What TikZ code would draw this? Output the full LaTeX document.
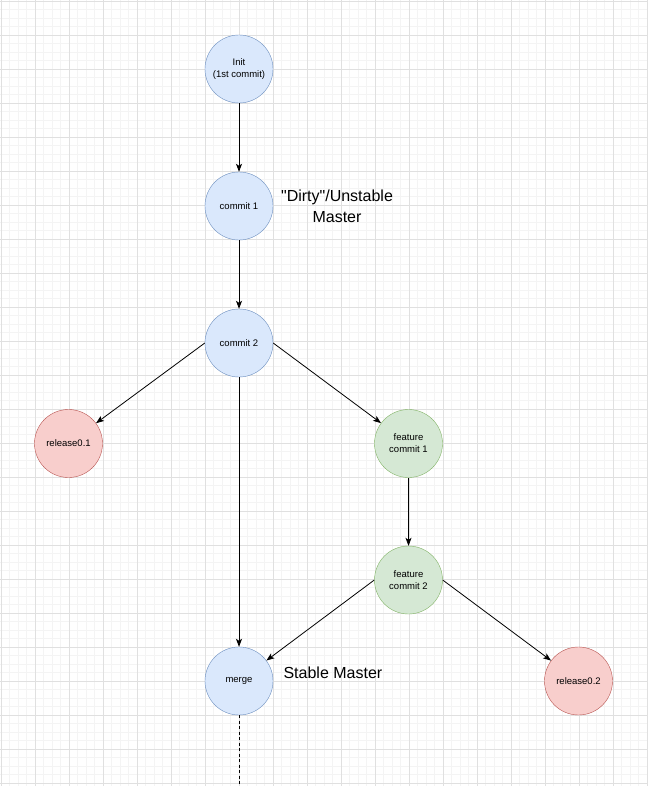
\documentclass[tikz,border=0pt]{standalone}
\usepackage{fontspec}
\setmainfont{Liberation Sans}
\newfontfamily\tagfont{Liberation Sans}
\usetikzlibrary{arrows.meta}

\begin{document}
\begin{tikzpicture}[
    x=1pt, y=-1pt,
    commit/.style={circle, draw, minimum size=68pt, inner sep=0pt, align=center, font=\fontsize{9.5}{12}\selectfont},
    mainline/.style={commit, fill=mainfill, draw=mainline},
    release/.style={commit, fill=relfill, draw=relline},
    feature/.style={commit, fill=featfill, draw=featline},
    tag/.style={align=center, font=\tagfont\fontsize{16}{21}\selectfont},
    edge/.style={line width=0.8pt, -{Stealth[length=8pt,width=6pt,inset=2pt]}},
    minor/.style={draw=gridminor, line width=0.5pt},
    major/.style={draw=gridmajor, line width=0.8pt}
  ]
  \definecolor{mainfill}{HTML}{DAE8FC}
  \definecolor{mainline}{HTML}{6C8EBF}
  \definecolor{relfill}{HTML}{F8CECC}
  \definecolor{relline}{HTML}{B85450}
  \definecolor{featfill}{HTML}{D5E8D4}
  \definecolor{featline}{HTML}{82B366}
  \definecolor{gridminor}{HTML}{F4F4F4}
  \definecolor{gridmajor}{HTML}{E0E0E0}

  % background grid
  \useasboundingbox (0,0) rectangle (647,786);
  \fill[white] (0,0) rectangle (647,786);
  \foreach \i in {0,...,76} \draw[minor] ({1+8.5*\i},0) -- ({1+8.5*\i},786);
  \foreach \i in {0,...,92} \draw[minor] (0,{1+8.5*\i}) -- (647,{1+8.5*\i});
  \foreach \i in {0,...,19} \draw[major] ({1+34*\i},0) -- ({1+34*\i},786);
  \foreach \i in {0,...,23} \draw[major] (0,{1+34*\i}) -- (647,{1+34*\i});

  % master branch
  \node[mainline] (init)  at (239,69)  {Init\\(1st commit)};
  \node[mainline] (c1)    at (239,206) {commit 1};
  \node[mainline] (c2)    at (239,343) {commit 2};
  \node[mainline] (merge) at (239,681) {merge};
  \coordinate (tail) at (239,786);

  \node[tag] at (337,206) {"Dirty"/Unstable\\Master};
  \node[tag, anchor=west] at (280,673) {Stable Master};

  % releases
  \node[release] (rel1) at (68.5,443.5) {release0.1};
  \node[release] (rel2) at (578.5,681) {release0.2};

  % feature branch
  \node[feature] (feat1) at (408.5,443.5) {feature\\commit 1};
  \node[feature] (feat2) at (408.5,580)   {feature\\commit 2};

  \draw[edge] (init) -- (c1);
  \draw[edge] (c1) -- (c2);
  \draw[edge] (c2.west) -- (rel1);
  \draw[edge] (c2.east) -- (feat1);
  \draw[edge] (c2) -- (merge);
  \draw[edge] (feat1) -- (feat2);
  \draw[edge] (feat2.west) -- (merge);
  \draw[edge] (feat2.east) -- (rel2);
  \draw[line width=0.8pt, dash pattern=on 3pt off 2.5pt] (merge) -- (tail);
\end{tikzpicture}
\end{document}
